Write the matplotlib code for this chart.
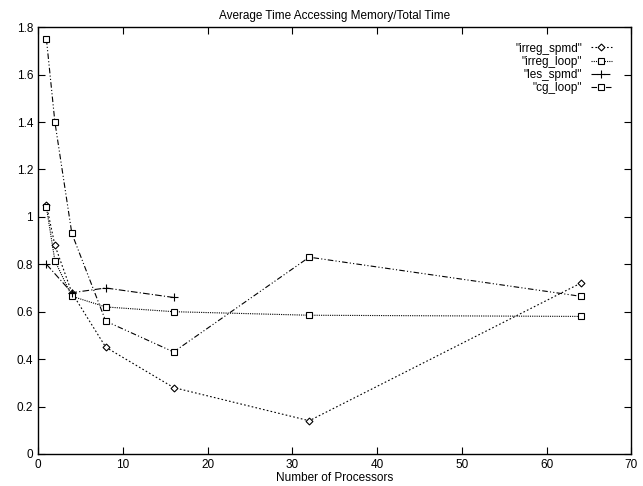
import matplotlib
matplotlib.use("Agg")
import matplotlib.pyplot as plt

plt.rcParams['font.family'] = ['Liberation Sans', 'DejaVu Sans']
plt.rcParams['font.size'] = 8.5

# data
procs = [1, 2, 4, 8, 16, 32, 64]
irreg_spmd = [1.05, 0.88, 0.68, 0.45, 0.28, 0.14, 0.72]
irreg_loop = [1.04, 0.815, 0.665, 0.62, 0.60, 0.585, 0.58]
les_procs = [1, 4, 8, 16]
les_spmd = [0.80, 0.68, 0.70, 0.66]
cg_loop = [1.75, 1.40, 0.93, 0.56, 0.43, 0.83, 0.665]

fig = plt.figure(figsize=(6.43, 4.86), dpi=100)
ax = fig.add_axes([0.059, 0.066, 0.923, 0.878])

lw = 0.8
ax.plot(procs, irreg_spmd, color='black', lw=lw, linestyle=(0, (1.5, 2.0)),
        marker='D', markersize=3.5, markerfacecolor='white', markeredgewidth=0.8,
        label='"irreg_spmd"')
ax.plot(procs, irreg_loop, color='black', lw=lw, linestyle=(0, (1.0, 1.0)),
        marker='s', markersize=5, markerfacecolor='white', markeredgewidth=0.8,
        label='"irreg_loop"')
ax.plot(les_procs, les_spmd, color='black', lw=lw, linestyle=(0, (6, 2, 1, 2)),
        marker='+', markersize=6, markeredgewidth=0.8, label='"les_spmd"')
ax.plot(procs, cg_loop, color='black', lw=lw, linestyle=(0, (5, 2, 1, 2, 1, 2)),
        marker='s', markersize=5, markerfacecolor='white', markeredgewidth=0.8,
        label='"cg_loop"')

ax.set_xlim(0, 70)
ax.set_ylim(0, 1.8)
ax.set_xticks(range(0, 71, 10))
ax.set_yticks([0, 0.2, 0.4, 0.6, 0.8, 1, 1.2, 1.4, 1.6, 1.8])
ax.set_yticklabels(['0', '0.2', '0.4', '0.6', '0.8', '1', '1.2', '1.4', '1.6', '1.8'])
ax.tick_params(direction='in', top=True, right=True, length=5, width=0.8)
for s in ax.spines.values():
    s.set_linewidth(1.0)

ax.set_title('Average Time Accessing Memory/Total Time', fontsize=8.5, pad=6)
ax.set_xlabel('Number of Processors', labelpad=1)

ax.legend(loc='upper right', frameon=False, markerfirst=False, handlelength=1.8,
          labelspacing=0.1, borderaxespad=0.0, handletextpad=0.7,
          fontsize=8.5, bbox_to_anchor=(0.975, 0.975))

fig.savefig('out.png', dpi=100)
